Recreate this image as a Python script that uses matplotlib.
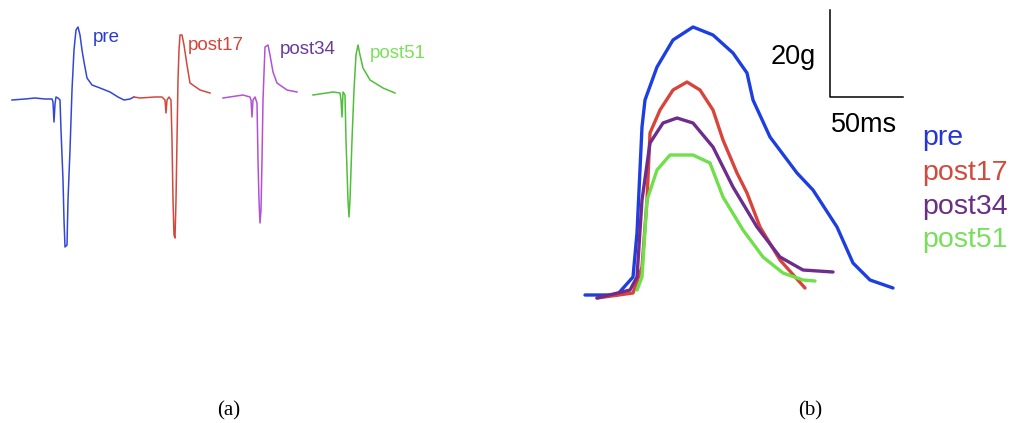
import matplotlib
matplotlib.use("Agg")
import matplotlib.pyplot as plt

# ------ Data: panel (a) EMG traces (sample index, amplitude) ------
PRE_T = [12, 25, 35, 45, 52, 53, 54, 55, 56, 58, 60, 61, 63, 64, 65, 67, 68, 70, 72, 74,
         76, 78, 80, 82, 84, 87, 92, 100, 110, 118, 124, 130, 134]
PRE_V = [0, 1, 2, 1, 1, -2, -22, -4, 3, 2, 0, -30, -80, -120, -147, -145, -100, -50, 10, 50,
         70, 73, 65, 50, 38, 22, 15, 12, 8, 3, 0, 1, 3]
P17_T = [134, 140, 155, 162, 165, 166, 167, 169, 171, 172, 173, 174, 175, 176, 177, 178,
         179, 180, 182, 184, 187, 190, 200, 210]
P17_V = [3, 2, 3, 3, 0, -13, 0, 3, 0, -40, -100, -135, -138, -100, -40, 20,
         50, 65, 65, 55, 35, 17, 10, 7]
P34_T = [223, 243, 250, 251, 252, 253, 255, 257, 258, 259, 260, 261, 262, 263, 265, 268,
         270, 273, 277, 287, 297]
P34_V = [2, 5, 3, 0, -17, 0, 3, -3, -60, -100, -123, -110, -60, 0, 53, 55,
         45, 28, 17, 10, 8]
P51_T = [313, 333, 340, 341, 342, 343, 345, 346, 348, 349, 350, 352, 354, 356, 358, 360,
         363, 370, 383, 395]
P51_V = [5, 8, 7, 0, -17, 8, 5, -40, -100, -117, -100, -40, 10, 45, 55, 45,
         32, 20, 12, 7]

# ------ Data: panel (b) force traces (time, force) ------
F_PRE_T = [0, 32, 48, 52, 57, 60, 72, 88, 108, 128, 148, 162, 168, 185, 212, 228, 252, 268, 285, 308]
F_PRE_V = [1, 1, 19, 63, 169, 196, 229, 256, 269, 261, 243, 223, 196, 159, 123, 106, 69, 33, 16, 8]
F_P17_T = [12, 48, 57, 62, 65, 75, 88, 102, 115, 128, 138, 152, 162, 175, 195, 220]
F_P17_V = [-2, 3, 29, 96, 163, 186, 206, 214, 206, 186, 156, 123, 103, 69, 36, 8]
F_P34_T = [12, 45, 52, 57, 65, 78, 92, 108, 128, 148, 172, 195, 218, 248]
F_P34_V = [-2, 6, 19, 96, 153, 173, 178, 173, 149, 109, 69, 39, 26, 24]
F_P51_T = [52, 57, 62, 72, 85, 108, 125, 138, 158, 178, 198, 218, 230]
F_P51_V = [6, 19, 96, 126, 141, 141, 133, 99, 66, 39, 23, 16, 15]

LABELS = ["pre", "post17", "post34", "post51"]

# ------ Colours ------
A_LINE = ["#3347d6", "#d2483c", "#b351d6", "#4fbf3a"]
A_TEXT = ["#2b3bd0", "#d0463a", "#6b3a9a", "#7be05a"]
B_LINE = ["#1d3ee0", "#d9443a", "#6e2c8c", "#6fe04a"]
B_TEXT = ["#2436d8", "#d24a3c", "#6a2e86", "#77e05a"]

SANS = ["Liberation Sans", "DejaVu Sans"]
SERIF = ["Liberation Serif", "DejaVu Serif"]

fig = plt.figure(figsize=(10.11, 4.23), dpi=100)

# ------ Panel (a) ------
ax_a = fig.add_axes([0, 123 / 423, 420 / 1011, 300 / 423])
ax_a.set_xlim(0, 420)
ax_a.set_ylim(-200, 100)
ax_a.axis("off")
for (t, v), c in zip([(PRE_T, PRE_V), (P17_T, P17_V), (P34_T, P34_V), (P51_T, P51_V)], A_LINE):
    ax_a.plot(t, v, color=c, lw=1.1)
for lab, x, y, c in zip(LABELS, [93, 188, 280, 370], [62, 55, 50, 46], A_TEXT):
    ax_a.text(x, y, lab, color=c, fontsize=13.5, family=SANS, ha="left", va="center")

# ------ Panel (b) ------
ax_b = fig.add_axes([560 / 1011, 103 / 423, 451 / 1011, 320 / 423])
ax_b.set_xlim(-25, 426)
ax_b.set_ylim(-24, 296)
ax_b.axis("off")
for (t, v), c in zip([(F_PRE_T, F_PRE_V), (F_P17_T, F_P17_V), (F_P34_T, F_P34_V), (F_P51_T, F_P51_V)], B_LINE):
    ax_b.plot(t, v, color=c, lw=2.4, solid_capstyle="round", solid_joinstyle="round")

# scale bar: 20 g x 50 ms
ax_b.plot([245, 245, 318], [286, 199, 199], color="black", lw=1.1)
ax_b.text(186, 239, "20g", fontsize=19.5, family=SANS, ha="left", va="center")
ax_b.text(246, 171, "50ms", fontsize=19.5, family=SANS, ha="left", va="center")
for lab, y, c in zip(LABELS, [158, 123, 89, 56], B_TEXT):
    ax_b.text(337, y, lab, color=c, fontsize=20.5, family=SANS, ha="left", va="center")

# ------ Captions ------
fig.text(229 / 1011, 1 - 411 / 423, "(a)", fontsize=15, family=SERIF, ha="center", va="center")
fig.text(810 / 1011, 1 - 411 / 423, "(b)", fontsize=15, family=SERIF, ha="center", va="center")

fig.savefig("out.png", dpi=100, facecolor="white")
